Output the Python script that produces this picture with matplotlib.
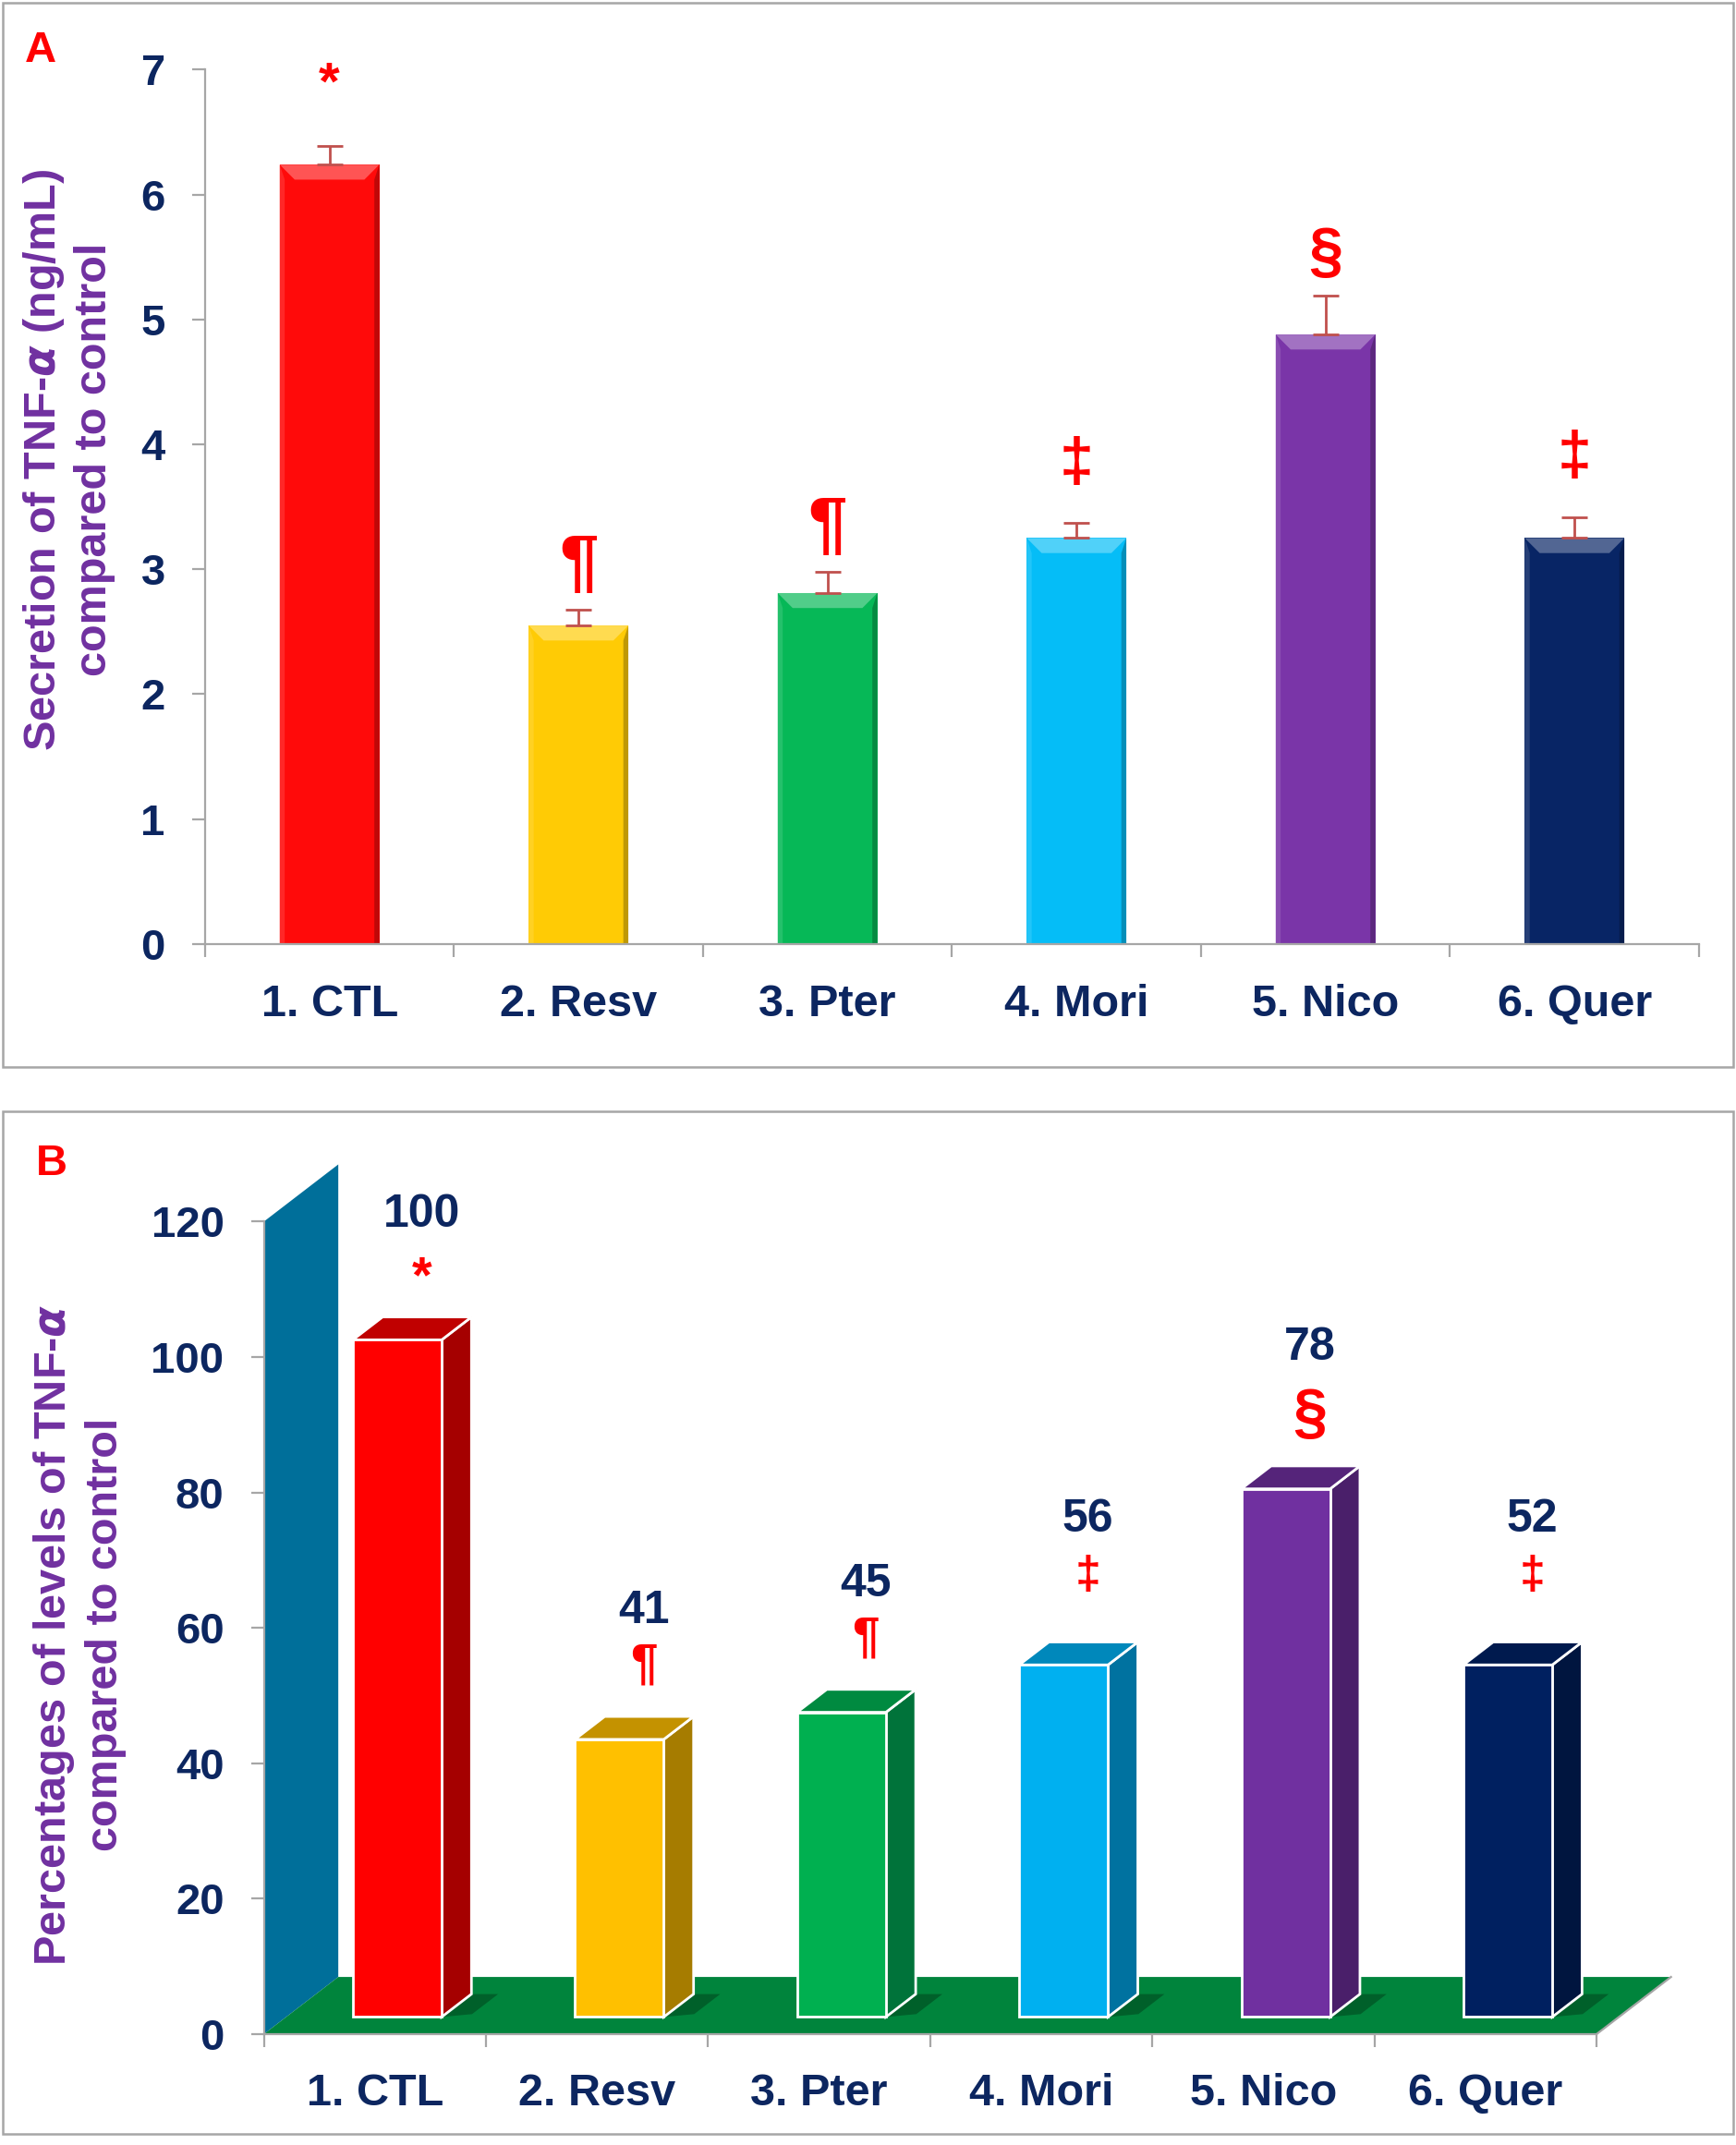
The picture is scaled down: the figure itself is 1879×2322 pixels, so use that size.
import matplotlib
matplotlib.use("Agg")
import matplotlib.pyplot as plt
from matplotlib.patches import Polygon, Rectangle
from matplotlib.colors import to_rgb
import numpy as np

plt.rcParams['font.family'] = ['Liberation Sans', 'DejaVu Sans']
plt.rcParams['font.weight'] = 'bold'

# data
groups = ["1. CTL", "2. Resv", "3. Pter", "4. Mori", "5. Nico", "6. Quer"]
tnf_mean = [6.24, 2.55, 2.81, 3.25, 4.88, 3.25]      # ng/mL
tnf_err = [0.15, 0.13, 0.17, 0.12, 0.31, 0.17]
pct_bar = [100, 41, 45, 52, 78, 52]                   # % of control (bar heights)
pct_text = ["100", "41", "45", "56", "78", "52"]      # printed labels
signif = ["*", "¶", "¶", "‡", "§", "‡"]

# styles
NAVY = '#0c2660'
PURPLE = '#7030a0'
RED = '#ff0000'
GRAY = '#a6a6a6'
colors_a = ['#ff0a0a', '#ffcb05', '#06b857', '#05bdf7', '#7a35a8', '#082565']
front_b = ['#ff0000', '#ffc000', '#00b050', '#00b0f0', '#7030a0', '#002060']
side_b = ['#a50000', '#a67c00', '#00733a', '#0072a0', '#4a1f6a', '#00153f']
top_b = ['#c00000', '#c49200', '#008a40', '#0088bb', '#55247a', '#001a4e']

sym_pad_a = {'*': 0.48, '¶': 0.35, '‡': 0.47, '§': 0.33}
sym_size_a = {'*': 42, '¶': 55, '‡': 48, '§': 48}
sym_pad_b = {'*': 11.5, '¶': 13.5, '‡': 15.6, '§': 13.3}
num_pad_b = {'*': 21, '¶': 21.5, '‡': 24, '§': 23.4}
sym_size_b = {'*': 40, '¶': 38, '‡': 36, '§': 48}


def mix(c, other, t):
    c = np.array(to_rgb(c))
    o = np.array(to_rgb(other))
    return tuple(c * (1 - t) + o * t)


fig = plt.figure(figsize=(18.79, 23.22), dpi=100)

# panel frames
for y0, y1 in [(0.5026, 0.9987), (0.0051, 0.4821)]:
    fig.add_artist(Rectangle((0.0016, y0), 0.9968, y1 - y0, transform=fig.transFigure,
                             fill=False, edgecolor=GRAY, lw=1.8))


def style_axes(ax, ymax, ystep, xpad):
    for s in ['top', 'right']:
        ax.spines[s].set_visible(False)
    for s in ['left', 'bottom']:
        ax.spines[s].set_color(GRAY)
        ax.spines[s].set_linewidth(1.6)
    ax.set_xlim(0, 6)
    ax.set_ylim(0, ymax)
    ax.set_yticks(np.arange(0, ymax + 1, ystep))
    ax.set_xticks(np.arange(0, 7))
    ax.set_xticklabels([])
    ax.set_xticks(np.arange(6) + 0.5, minor=True)
    ax.set_xticklabels(groups, minor=True)
    ax.tick_params(axis='x', which='major', direction='out', length=10, width=1.6, color=GRAY)
    ax.tick_params(axis='x', which='minor', length=0, pad=xpad, labelsize=35, labelcolor=NAVY)
    ax.tick_params(axis='y', direction='out', length=10, width=1.6, color=GRAY,
                   pad=21, labelsize=34, labelcolor=NAVY)
    for lab in ax.get_xticklabels(minor=True) + ax.get_yticklabels():
        lab.set_fontweight('bold')


# ---------- panel A ----------
axA = fig.add_axes([0.1181, 0.5599, 0.8606, 0.4076])
style_axes(axA, 7, 1, 31)
x = np.arange(6) + 0.5
w = 0.4
axA.bar(x, tnf_mean, width=w, color=colors_a, zorder=2)
axA.errorbar(x, tnf_mean, yerr=[np.zeros(6), tnf_err], fmt='none', ecolor='#c0504d',
             elinewidth=2, capsize=10, capthick=2, zorder=3)
bx, by, sx = 0.06, 0.12, 0.02
for xi, v, c in zip(x, tnf_mean, colors_a):
    x0, x1 = xi - w / 2, xi + w / 2
    axA.add_patch(Polygon([(x0, v), (x1, v), (x1 - bx, v - by), (x0 + bx, v - by)],
                          closed=True, color=mix(c, 'white', 0.3), lw=0, zorder=2.5))
    axA.add_patch(Polygon([(x0, 0), (x0, v), (x0 + sx, v - by), (x0 + sx, 0)],
                          closed=True, color=mix(c, 'white', 0.12), lw=0, zorder=2.4))
    axA.add_patch(Polygon([(x1, 0), (x1, v), (x1 - sx, v - by), (x1 - sx, 0)],
                          closed=True, color=mix(c, 'black', 0.25), lw=0, zorder=2.4))
for xi, v, e, s in zip(x, tnf_mean, tnf_err, signif):
    axA.text(xi, v + e + sym_pad_a[s], s, color=RED, fontsize=sym_size_a[s],
             ha='center', va='center', fontweight='bold')

fig.text(0.0236, 0.9764, "A", color=RED, fontsize=34, fontweight='bold', ha='center', va='center')
fig.text(0.0394, 0.7857, "Secretion of TNF-$\\alpha$ (ng/mL)\ncompared to control", color=PURPLE,
         fontsize=35, fontweight='bold', rotation=90, ha='center', va='center',
         multialignment='center', linespacing=1.25)

# ---------- panel B ----------
axB = fig.add_axes([0.152, 0.0517, 0.7677, 0.3788])
style_axes(axB, 120, 20, 30)
ddx, ddy = 0.335, 8.44      # depth direction in data units
d0, d1 = 0.3, 0.7


def P(px, py, d):
    return (px + d * ddx, py + d * ddy)


# side wall and floor
axB.add_patch(Polygon([(0, 0), (0, 120), (ddx, 120 + ddy), (ddx, ddy)], closed=True,
                      color='#006f9a', lw=0, zorder=1, clip_on=False))
axB.add_patch(Polygon([(0, 0), (6, 0), (6 + ddx, ddy), (ddx, ddy)], closed=True,
                      color='#00843c', lw=0, zorder=1, clip_on=False))
axB.plot([6, 6 + ddx], [0, ddy], color=GRAY, lw=1.6, clip_on=False, zorder=1.1)

for i, v in enumerate(pct_bar):
    x0, x1 = i + 0.5 - w / 2, i + 0.5 + w / 2
    # floor shadow
    axB.add_patch(Polygon([P(x1, 0, d0), P(x1 + 0.12, 0, d0 + 0.05), P(x1 + 0.12, 0, d1),
                           P(x1, 0, d1)], closed=True, color='#00602a', lw=0, zorder=1.5,
                          clip_on=False))
    front = [P(x0, 0, d0), P(x1, 0, d0), P(x1, v, d0), P(x0, v, d0)]
    side = [P(x1, 0, d0), P(x1, 0, d1), P(x1, v, d1), P(x1, v, d0)]
    top = [P(x0, v, d0), P(x1, v, d0), P(x1, v, d1), P(x0, v, d1)]
    for poly, col in [(side, side_b[i]), (top, top_b[i]), (front, front_b[i])]:
        axB.add_patch(Polygon(poly, closed=True, facecolor=col, edgecolor='white',
                              lw=2, zorder=2, clip_on=False))
    s = signif[i]
    axB.text(i + 0.71, v + num_pad_b[s], pct_text[i], color=NAVY, fontsize=36,
             fontweight='bold', ha='center', va='center', clip_on=False)
    axB.text(i + 0.71, v + sym_pad_b[s], s, color=RED, fontsize=sym_size_b[s],
             fontweight='bold', ha='center', va='center', clip_on=False)

fig.text(0.0299, 0.4573, "B", color=RED, fontsize=34, fontweight='bold', ha='center', va='center')
fig.text(0.0457, 0.2379, "Percentages of levels of TNF-$\\alpha$\ncompared to control", color=PURPLE,
         fontsize=35, fontweight='bold', rotation=90, ha='center', va='center',
         multialignment='center', linespacing=1.25)

fig.savefig("out.png", dpi=100)
